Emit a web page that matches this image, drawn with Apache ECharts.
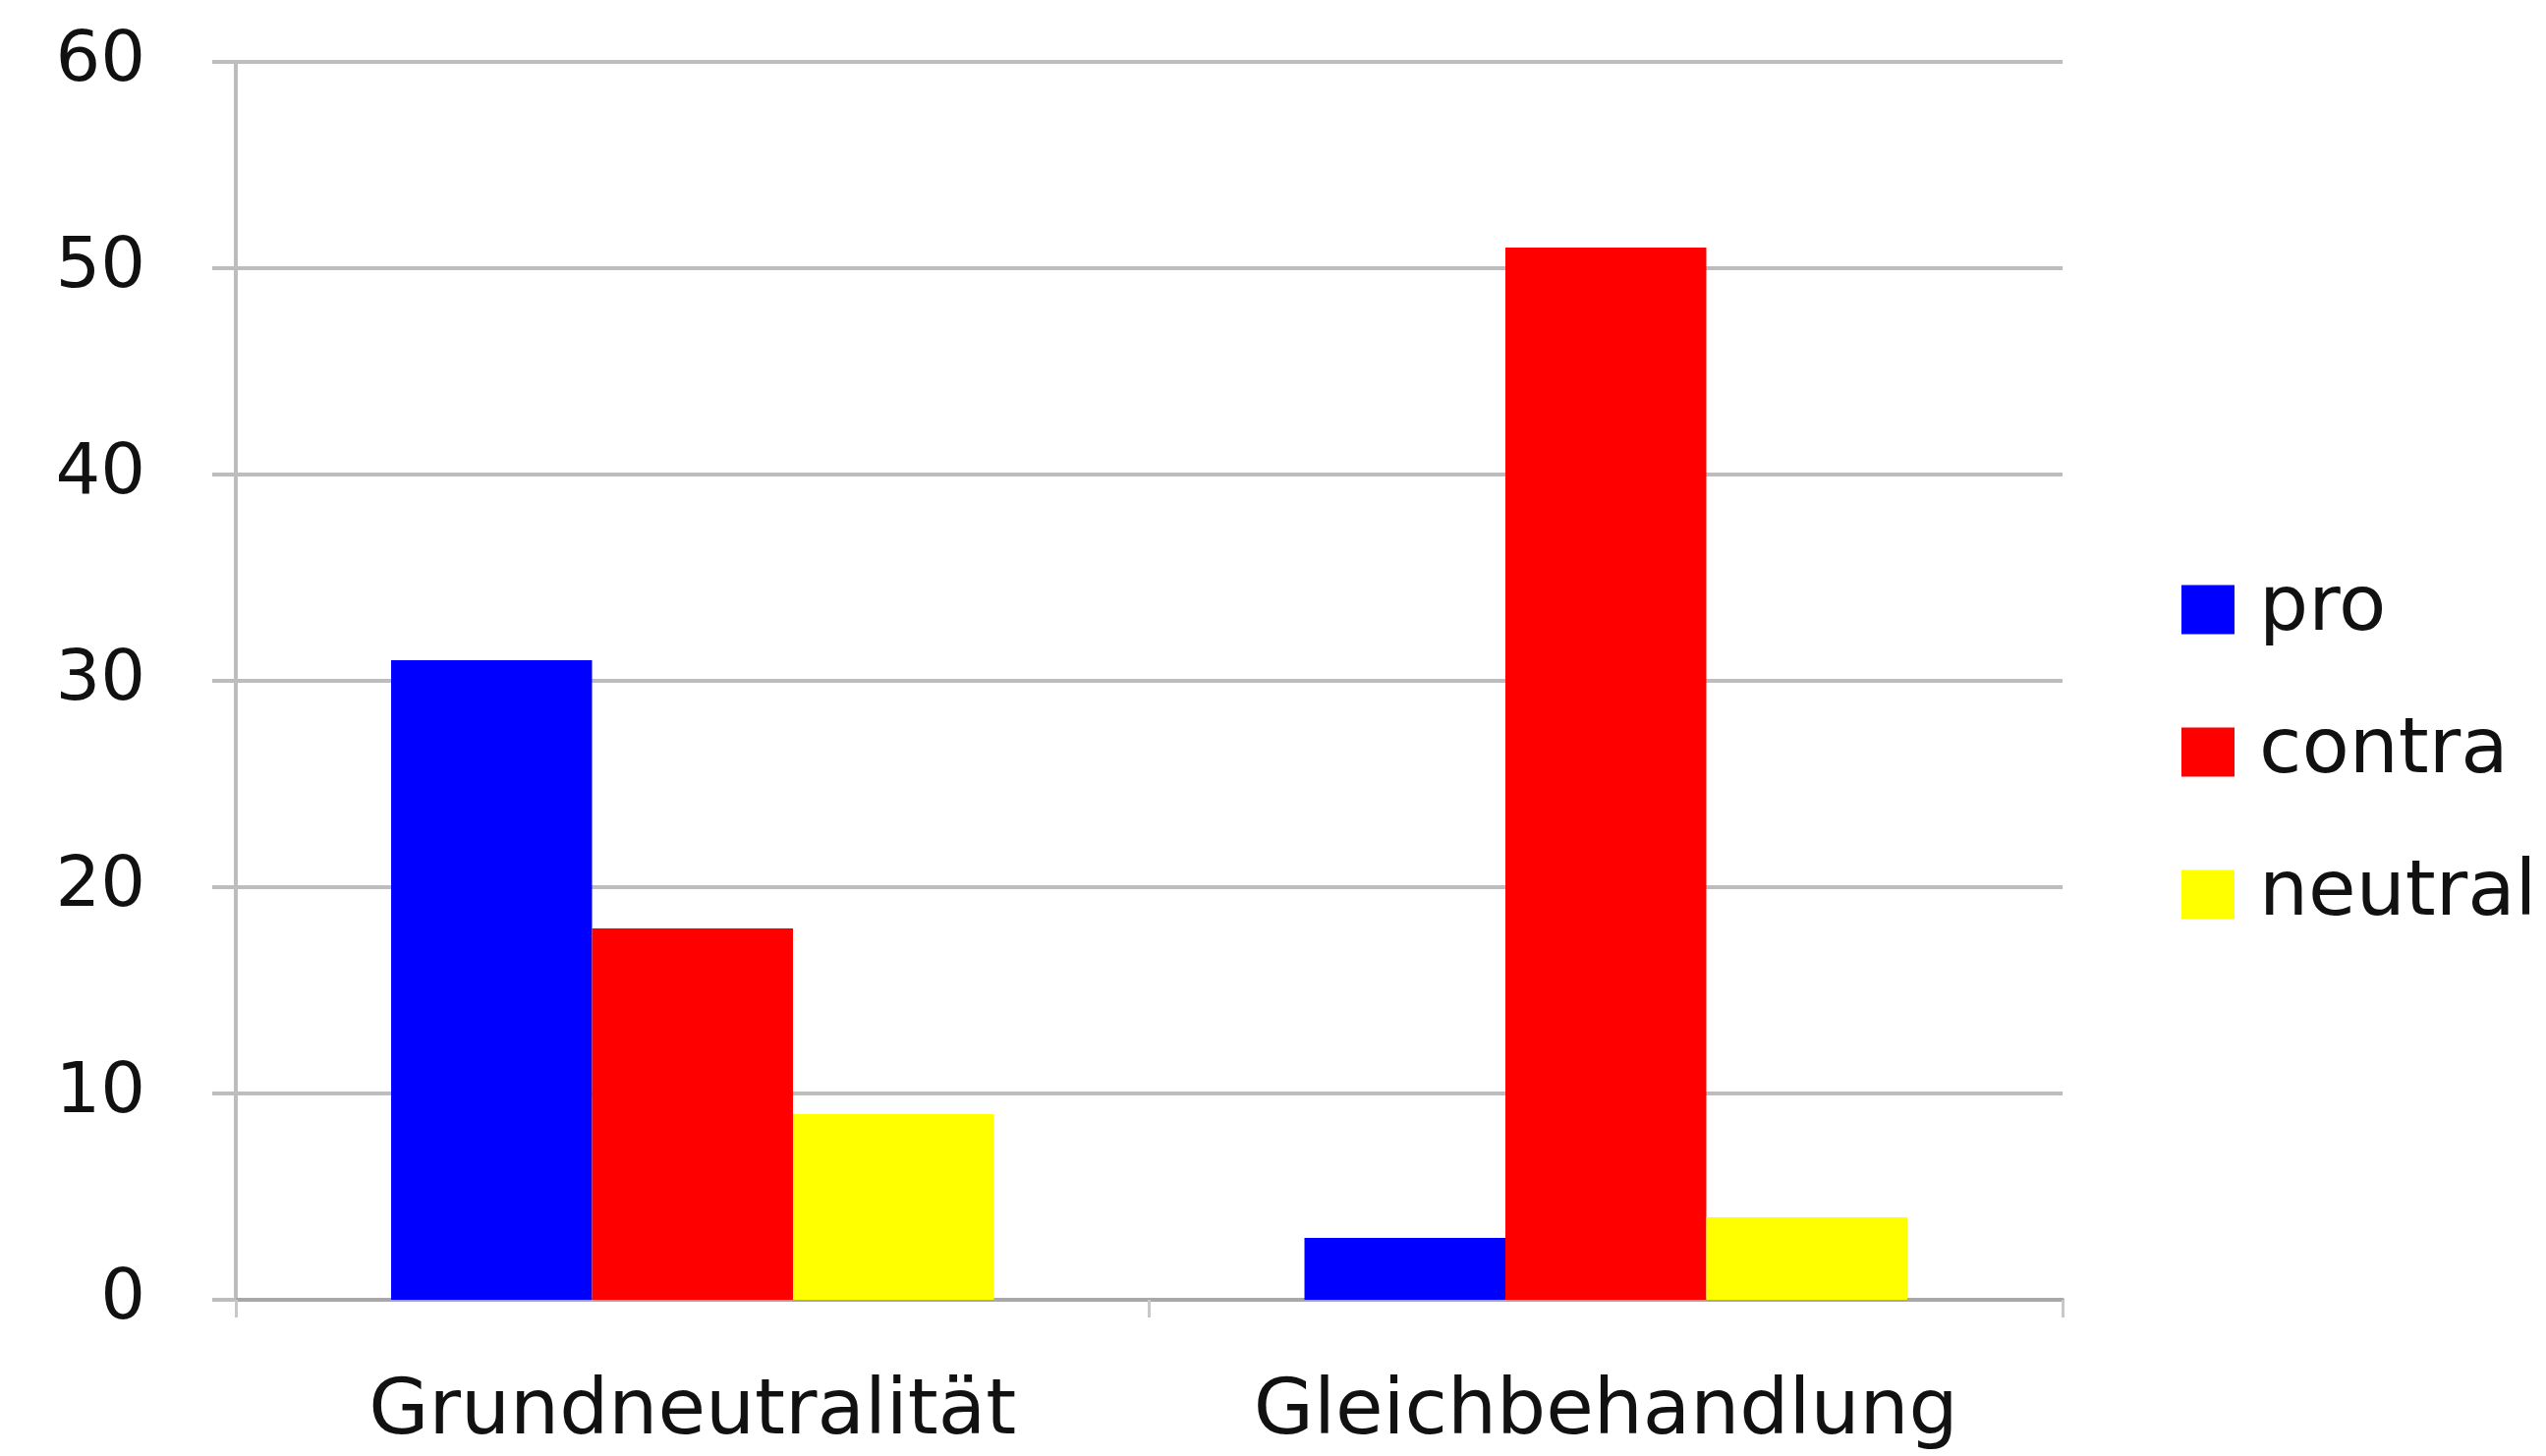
<!DOCTYPE html>
<html>
<head>
<meta charset="utf-8">
<script src="https://cdn.jsdelivr.net/npm/echarts@6/dist/echarts.min.js"></script>
<style>
html,body{margin:0;padding:0;background:#fff;}
#chart{width:2591px;height:1482px;}
</style>
</head>
<body>
<div id="chart"></div>
<script>
const categories = ['Grundneutralität', 'Gleichbehandlung'];
const seriesNames = ['pro', 'contra', 'neutral'];
const proValues = [31, 3];
const contraValues = [18, 51];
const neutralValues = [9, 4];
const yTicks = [0, 10, 20, 30, 40, 50, 60];
const colors = ['#0000FF', '#FF0000', '#FFFF00'];

const font = '"DejaVu Sans", sans-serif';
const chart = echarts.init(document.getElementById('chart'));
const values = [proValues, contraValues, neutralValues];

chart.setOption({
  animation: false,
  backgroundColor: '#ffffff',
  grid: { left: 240, right: 492, top: 63, bottom: 159, containLabel: false },
  legend: {
    orient: 'vertical',
    left: 2215,
    top: 576,
    itemWidth: 54,
    itemHeight: 50,
    itemGap: 66,
    icon: 'rect',
    textStyle: { fontFamily: font, fontSize: 79, color: '#111', padding: [0, 0, 0, 20] },
    data: seriesNames
  },
  xAxis: {
    type: 'category',
    data: categories,
    axisLine: { show: true, lineStyle: { color: '#a8a8a8', width: 4 } },
    axisTick: { show: true, interval: 0, length: 18, lineStyle: { color: '#c8c8c8', width: 3 } },
    axisLabel: { interval: 0, fontFamily: font, fontSize: 79, color: '#111', margin: 76 }
  },
  yAxis: {
    type: 'value',
    min: yTicks[0],
    max: yTicks[yTicks.length - 1],
    interval: 10,
    axisLine: { show: true, lineStyle: { color: '#bdbdbd', width: 4 } },
    axisTick: { show: true, length: 24, lineStyle: { color: '#bdbdbd', width: 4 } },
    splitLine: { show: true, lineStyle: { color: '#bdbdbd', width: 4 } },
    axisLabel: { fontFamily: font, fontSize: 72, color: '#111', margin: 92, padding: [14, 0, 0, 0] }
  },
  series: seriesNames.map((name, i) => ({
    name: name,
    type: 'bar',
    data: values[i],
    barGap: '0%',
    barCategoryGap: '34%',
    itemStyle: { color: colors[i] }
  }))
});
</script>
</body>
</html>
